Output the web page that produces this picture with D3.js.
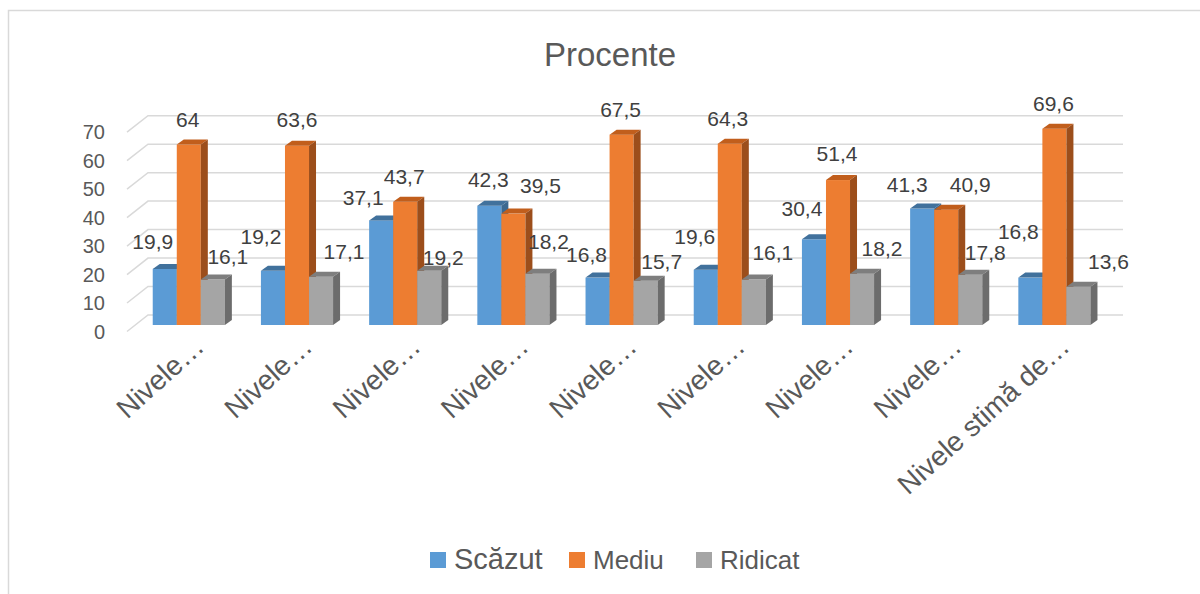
<!DOCTYPE html>
<html>
<head>
<meta charset="utf-8">
<script src="https://d3js.org/d3.v7.min.js"></script>
<style>
    body { margin: 0; background: #fff; }
    text { font-family: "Liberation Sans", Arial, sans-serif; }
</style>
</head>
<body>
<svg id="chart" width="1200" height="594"></svg>
<script>
    // chart data
    const categories = ["Nivele…", "Nivele…", "Nivele…", "Nivele…", "Nivele…",
        "Nivele…", "Nivele…", "Nivele…", "Nivele stimă de…"];
    const series = ["Scăzut", "Mediu", "Ridicat"];
    const scazut = [19.9, 19.2, 37.1, 42.3, 16.8, 19.6, 30.4, 41.3, 16.8];
    const mediu = [64, 63.6, 43.7, 39.5, 67.5, 64.3, 51.4, 40.9, 69.6];
    const ridicat = [16.1, 17.1, 19.2, 18.2, 15.7, 16.1, 18.2, 17.8, 13.6];
    const yTicks = [0, 10, 20, 30, 40, 50, 60, 70];

    // where excel dropped each data label, relative to the bar top [dx, dy]
    const labelNudge = [
        [[-12, -27], [-1, -25], [15, -23]],
        [[-12, -34], [0, -26], [23, -25]],
        [[-18, -23], [-1, -25], [14, -13]],
        [[-1, -26], [27, -28], [11, -32]],
        [[-11, -23], [-1, -25], [16, -19]],
        [[-11, -33], [-2, -25], [19, -27]],
        [[-12, -31], [-1, -27], [20, -25]],
        [[-15, -24], [24, -25], [15, -22]],
        [[-12, -46], [-1, -25], [30, -25]]
    ];

    const values = [scazut, mediu, ridicat];
    const frontCol = ["#5B9BD5", "#ED7D31", "#A5A5A5"];
    const topCol = ["#41719C", "#C15E1C", "#7E7E7E"];
    const sideCol = ["#3B6890", "#9C4E1B", "#6C6C6C"];

    const svg = d3.select("#chart");

    // outer frame
    svg.append("rect")
        .attr("x", 8.5).attr("y", 10.5)
        .attr("width", 1210).attr("height", 600)
        .attr("fill", "none").attr("stroke", "#D9D9D9").attr("stroke-width", 1.5);

    svg.append("text")
        .attr("x", 610).attr("y", 66)
        .attr("text-anchor", "middle")
        .attr("font-size", 33)
        .attr("fill", "#595959")
        .text("Procente");

    // 3d-ish geometry
    const depthX = 21, depthY = 16.5;   // floor / wall depth
    const barDX = 7, barDY = 5;         // bar depth

    const idx = d3.range(categories.length);
    const x0 = d3.scaleBand().domain(idx).range([134.7, 1108.5])
        .paddingInner(1 / 3).paddingOuter(1 / 6);
    const x1 = d3.scaleBand().domain(series).range([0, x0.bandwidth()]);
    const yBack = d3.scaleLinear().domain([0, 70]).range([315, 115.7]);
    const yFront = d3.scaleLinear().domain([0, 70]).range([325, 325 - 70 * 2.82]);

    const backLeft = 148, backRight = 1123;

    // gridlines: short diagonal on the side wall then along the back wall
    const grid = svg.append("g");
    yTicks.forEach(t => {
        const yb = yBack(t);
        grid.append("polyline")
            .attr("points", [[backLeft - depthX, yb + depthY], [backLeft, yb], [backRight, yb]].join(" "))
            .attr("fill", "none")
            .attr("stroke", "#D9D9D9")
            .attr("stroke-width", 1.5);
        grid.append("text")
            .attr("x", 105).attr("y", yb + depthY)
            .attr("dy", "0.36em")
            .attr("text-anchor", "end")
            .attr("font-size", 20)
            .attr("fill", "#595959")
            .text(t);
    });

    // bars
    const bars = svg.append("g");
    idx.forEach(i => {
        series.forEach((s, j) => {
            const v = values[j][i];
            const x = x0(i) + x1(s), w = x1.bandwidth();
            const y = yFront(v), y0 = yFront(0);
            bars.append("rect")
                .attr("x", x).attr("y", y)
                .attr("width", w).attr("height", y0 - y)
                .attr("fill", frontCol[j]);
            bars.append("polygon")
                .attr("points", [[x, y], [x + barDX, y - barDY], [x + w + barDX, y - barDY], [x + w, y]].join(" "))
                .attr("fill", topCol[j]);
            bars.append("polygon")
                .attr("points", [[x + w, y], [x + w + barDX, y - barDY], [x + w + barDX, y0 - barDY], [x + w, y0]].join(" "))
                .attr("fill", sideCol[j]);
        });
    });

    // data labels
    const labels = svg.append("g");
    idx.forEach(i => {
        series.forEach((s, j) => {
            const v = values[j][i];
            const cx = x0(i) + x1(s) + x1.bandwidth() / 2;
            const nudge = labelNudge[i][j];
            labels.append("text")
                .attr("x", cx + nudge[0])
                .attr("y", yFront(v) + nudge[1])
                .attr("dy", "0.36em")
                .attr("text-anchor", "middle")
                .attr("font-size", 21)
                .attr("fill", "#404040")
                .text(String(v).replace(".", ","));
        });
    });

    // category labels, rotated
    const cats = svg.append("g");
    idx.forEach(i => {
        const px = x0(i) + x0.bandwidth() / 2 + 17;
        cats.append("text")
            .attr("transform", "translate(" + px + ",349) rotate(-42)")
            .attr("text-anchor", "end")
            .attr("font-size", 28)
            .attr("fill", "#595959")
            .text(categories[i]);
    });

    // legend
    const legendItems = [
        { name: "Scăzut", x: 430, size: 29 },
        { name: "Mediu", x: 569, size: 26 },
        { name: "Ridicat", x: 696, size: 26 }
    ];
    const legend = svg.append("g");
    legendItems.forEach((d, j) => {
        legend.append("rect")
            .attr("x", d.x).attr("y", 552)
            .attr("width", 16).attr("height", 16)
            .attr("fill", frontCol[j]);
        legend.append("text")
            .attr("x", d.x + 24).attr("y", 568.5)
            .attr("font-size", d.size)
            .attr("fill", "#595959")
            .text(d.name);
    });
</script>
</body>
</html>
